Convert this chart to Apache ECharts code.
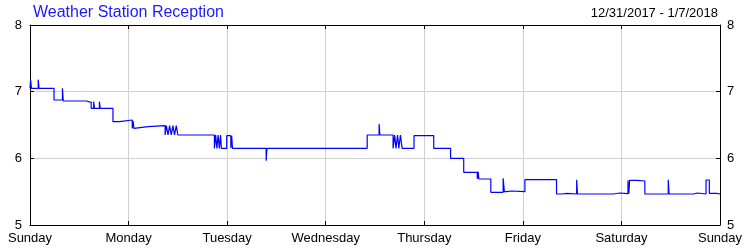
<!DOCTYPE html>
<html>
<head>
<meta charset="utf-8">
<script src="https://cdn.jsdelivr.net/npm/echarts@6/dist/echarts.min.js"></script>
<style>
  html,body{margin:0;padding:0;background:#fff;}
  #chart{width:750px;height:250px;}
</style>
</head>
<body>
<div id="chart"></div>
<script>
var dayLabels=["Sunday","Monday","Tuesday","Wednesday","Thursday","Friday","Saturday","Sunday"];
var yTicks=[5,6,7,8];

// hours since Sunday 0:00, each value holds until the next point
var hours=[0,0.15,0.35,2.0,2.2,5.85,7.9,8.1,13.7,14.9,15.5,15.7,16.9,17.1,20.2,21.8,
  24.9,25.1,25.3,25.6,28.8,32.9,33.2,33.6,34.0,34.4,34.8,35.2,35.6,36.0,
  44.9,45.2,45.5,45.8,46.1,46.4,46.6,47.9,48.9,49.1,49.3,57.5,57.7,
  82.1,85.0,85.2,88.4,88.8,89.1,89.5,89.8,90.2,90.6,93.5,98.3,102.4,105.6,
  108.9,109.1,109.3,112.2,115.2,115.5,116.0,117.3,120.5,128.2,129.4,130.8,133.1,133.3,
  140.0,140.4,142.0,143.6,145.6,145.8,146.0,147.7,149.7,155.4,155.6,161.5,162.5,
  164.6,165.4,167.2,168];
var reception=[7.05,7.18,7.05,7.18,7.05,6.875,7.05,6.86,6.84,6.75,6.85,6.75,6.85,6.75,6.55,6.575,
  6.45,6.56,6.45,6.475,6.49,6.35,6.49,6.35,6.49,6.35,6.49,6.35,6.49,6.35,
  6.15,6.35,6.15,6.35,6.15,6.35,6.15,6.34,6.15,6.34,6.15,5.965,6.15,
  6.35,6.515,6.35,6.15,6.35,6.15,6.35,6.15,6.35,6.15,6.34,6.15,6.0,5.79,
  5.69,5.8,5.69,5.49,5.70,5.5,5.51,5.5,5.68,5.465,5.475,5.465,5.68,5.465,
  5.475,5.465,5.48,5.47,5.67,5.47,5.67,5.66,5.465,5.68,5.465,5.48,5.465,
  5.675,5.475,5.465,5.465];

var chart=echarts.init(document.getElementById("chart"));
var font="Liberation Sans, Arial, sans-serif";

var axisCommon={
  axisLine:{show:true,onZero:false,lineStyle:{color:"#000",width:1}},
  axisTick:{show:true,inside:true,length:4,lineStyle:{color:"#000"}}
};

var chartoptions={
  animation:false,
  title:[
    {text:"Weather Station Reception",left:33,top:5,padding:0,
     textStyle:{color:"#1a1aff",fontSize:16,fontWeight:"normal",fontFamily:font}},
    {text:"12/31/2017 - 1/7/2018",right:32,top:7,padding:0,
     textStyle:{color:"#000",fontSize:13,fontWeight:"normal",fontFamily:font}}
  ],
  grid:{left:30,right:30,top:25,bottom:25,containLabel:false},
  xAxis:[
    Object.assign({
      type:"value",position:"bottom",min:0,max:168,interval:24,
      axisLabel:{margin:7,color:"#000",fontSize:13,fontFamily:font,
        formatter:(v)=>dayLabels[Math.round(v/24)]},
      splitLine:{show:true,lineStyle:{color:"#d0d0d0",width:1}}
    },axisCommon),
    Object.assign({
      type:"value",position:"top",min:0,max:168,interval:24,
      axisLabel:{show:false},splitLine:{show:false}
    },axisCommon)
  ],
  yAxis:[
    Object.assign({
      type:"value",position:"left",min:yTicks[0],max:yTicks[yTicks.length-1],interval:1,
      axisLabel:{margin:8,color:"#000",fontSize:13,fontFamily:font},
      splitLine:{show:true,lineStyle:{color:"#d0d0d0",width:1}}
    },axisCommon),
    Object.assign({
      type:"value",position:"right",min:yTicks[0],max:yTicks[yTicks.length-1],interval:1,
      axisLabel:{margin:7,color:"#000",fontSize:13,fontFamily:font},
      splitLine:{show:false}
    },axisCommon)
  ],
  series:[
    {
      name:"Reception",
      type:"line",
      step:"end",
      symbol:"none",
      smooth:false,
      xAxisIndex:0,
      yAxisIndex:0,
      lineStyle:{color:"#0000ff",width:1.2},
      data:hours.map((h,index)=>[h,reception[index]])
    }
  ]
};
chart.setOption(chartoptions);
</script>
</body>
</html>
